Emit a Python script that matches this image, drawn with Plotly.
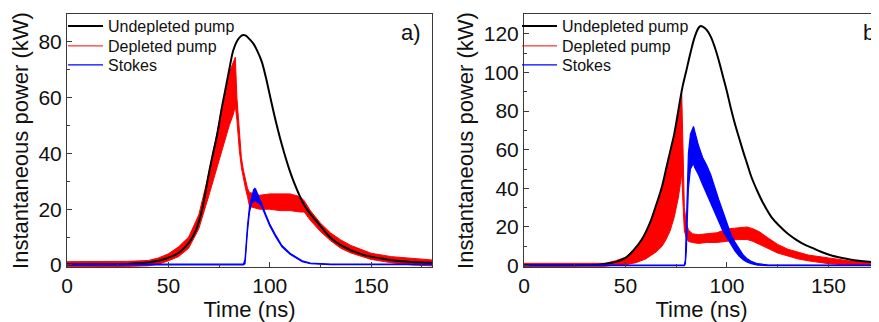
import plotly.graph_objects as go

# ---------------- Panel a) ----------------
t_a_black = [0, 10, 20, 30, 35, 40, 45, 50, 55, 60, 63, 66, 68, 70, 72, 74, 76, 78, 80, 82, 84, 86, 87, 88,
             90, 92, 94, 96, 98, 100, 102, 104, 106, 108, 110, 112, 114, 116, 118, 120, 122, 125, 128, 130,
             134, 138, 142, 146, 150, 155, 160, 165, 170, 175, 180]
p_a_black = [0.3, 0.3, 0.3, 0.4, 0.6, 0.9, 1.5, 2.6, 4.3, 7.8, 11.5, 18, 25, 33, 40, 46.5, 55, 62.5, 70, 77,
             80.5, 82.2, 82.5, 82.3, 81, 79.3, 76.5, 73, 67.5, 61, 54.5, 48.5, 43, 38, 33.5, 29.5, 26, 22.8,
             20.3, 18.3, 16.5, 14, 11.3, 9.8, 7.6, 6, 4.7, 3.7, 3, 2.3, 1.7, 1.3, 1.05, 0.9, 0.8]

t_a_red = [0, 10, 20, 30, 40, 45, 50, 55, 60, 65, 70, 75, 78, 80, 82, 83, 83.8, 84.4, 85, 86, 87, 88, 89, 90,
           95, 100, 105, 110, 115, 117, 120, 125, 130, 135, 140, 150, 160, 170, 180]
p_a_red_lo = [-0.6, -0.6, -0.6, -0.5, -0.3, 0.3, 1.5, 3, 6, 13, 25, 38, 45, 50, 54, 57, 52, 46, 41, 35, 31,
              27.5, 24.5, 21, 20, 20, 19.5, 19.5, 19, 19, 16, 12, 8.7, 6, 4.3, 2, 0.8, 0, -0.3]
p_a_red_hi = [1.2, 1.2, 1.2, 1.3, 1.6, 2.5, 4, 6.5, 10, 18, 33, 52, 62, 69, 73, 74.5, 60, 54, 47, 38.5, 34,
              30.5, 27.5, 26, 25, 25.5, 25.5, 25.5, 24.5, 23, 19.5, 15, 11.5, 9, 7, 4.2, 3, 2.3, 1.8]

t_a_blue = [0, 87, 87.8, 88.5, 89, 90, 91, 92, 92.6, 93, 94, 95, 96, 98, 100, 103, 106, 110, 113, 116, 120,
            125, 130, 180]
p_a_blue_lo = [0, 0, 0.5, 8, 12, 19, 22, 23, 23, 23, 22.5, 22, 21, 17.5, 14, 10, 6.5, 3.8, 2.4, 1.2, 0.5,
               0.2, 0.1, 0.1]
p_a_blue_hi = [0.3, 0.3, 2, 9.5, 14, 21, 24.5, 27, 27.5, 27.2, 25.5, 24, 22, 18.2, 14.7, 10.6, 7, 4.2, 2.8,
               1.5, 0.7, 0.4, 0.3, 0.3]

# ---------------- Panel b) ----------------
t_b_black = [0, 20, 30, 37, 42, 46, 50, 54, 58, 62, 65, 68, 70, 72, 74, 76, 78, 80, 82, 84, 86, 87, 88, 90,
             92, 94, 96, 98, 100, 102, 104, 106, 108, 110, 112, 115, 118, 122, 126, 130, 134, 138, 142, 146,
             150, 155, 160, 165, 170, 175, 180]
p_b_black = [0.2, 0.2, 0.3, 0.5, 1.2, 2.2, 4, 8, 13.5, 22, 31, 41, 50, 59, 68, 80, 92, 101, 110, 118, 123,
             124, 123.7, 122, 118.5, 113, 106, 98, 90, 81, 73, 66, 59, 52.5, 46, 38.5, 32, 25, 20.4, 16.5,
             13.5, 11, 9.2, 7.3, 5.8, 4.3, 3.3, 2.5, 2, 1.7, 1.4]

t_b_red = [0, 20, 40, 45, 50, 55, 60, 65, 68, 70, 72, 74, 76, 77, 77.7, 78.3, 79, 80, 81, 83, 86, 90, 95,
           100, 105, 110, 113, 116, 120, 125, 130, 135, 140, 150, 160, 170, 180]
p_b_red_lo = [-0.3, -0.3, -0.3, 0.3, 0.5, 1.5, 3.5, 7, 10, 13.5, 18, 25, 35, 42, 48, 33, 18, 14.5, 12.5, 12,
              11.5, 12, 12, 12.6, 13.5, 13.5, 12.5, 11, 9, 6.5, 5, 3.5, 2.5, 1, 0.3, 0, -0.2]
p_b_red_hi = [1.2, 1.2, 1.2, 2.5, 4.3, 9, 16.5, 30, 40, 48, 57, 66, 78, 84, 89.5, 62, 30, 22, 18.5, 16.5,
              16, 16.5, 17, 19, 19.5, 20, 19, 17.5, 14.5, 11, 8.5, 7, 5.5, 4, 2.5, 2, 1.5]

t_b_blue = [0, 79, 79.5, 80, 80.5, 81, 82, 83, 83.5, 84, 85, 86, 88, 90, 92, 94, 96, 98, 100, 102, 104, 106,
            108, 110, 112, 115, 120, 180]
p_b_blue_lo = [0, 0, 1, 8, 25, 40, 50, 52, 53, 51, 49, 47, 42, 37, 33, 28, 23, 18, 14.5, 11, 7.5, 5, 3, 1.8,
               1, 0.3, 0, 0]
p_b_blue_hi = [0.3, 0.3, 3, 25, 45, 58, 68, 71, 72, 70, 66, 62, 56, 52, 47, 40, 34, 28, 21.5, 16, 12, 8.5,
               5.5, 3.5, 2.2, 1, 0.4, 0.3]

series_names = ["Undepleted pump", "Depleted pump", "Stokes"]
panel_labels = ["a)", "b)"]

BLACK = "#000000"
RED = "#ff0000"
BLUE = "#0000ff"
FONT = "Liberation Sans, Arial, sans-serif"
TXT = "#111111"

fig = go.Figure()


def add_panel(xa, ya, legs, t_k, p_k, t_r, r_lo, r_hi, t_b, b_lo, b_hi):
    # depleted pump (noisy band drawn as envelope)
    fig.add_trace(go.Scatter(x=t_r, y=r_lo, mode="lines", line=dict(color=RED, width=1),
                             name=series_names[1], legend=legs[1], xaxis=xa, yaxis=ya))
    fig.add_trace(go.Scatter(x=t_r, y=r_hi, mode="lines", line=dict(color=RED, width=1),
                             fill="tonexty", fillcolor=RED, showlegend=False, xaxis=xa, yaxis=ya))
    # undepleted pump
    fig.add_trace(go.Scatter(x=t_k, y=p_k, mode="lines", line=dict(color=BLACK, width=2, shape="spline"),
                             name=series_names[0], legend=legs[0], xaxis=xa, yaxis=ya))
    # stokes
    fig.add_trace(go.Scatter(x=t_b, y=b_lo, mode="lines", line=dict(color=BLUE, width=1.2),
                             name=series_names[2], legend=legs[2], xaxis=xa, yaxis=ya))
    fig.add_trace(go.Scatter(x=t_b, y=b_hi, mode="lines", line=dict(color=BLUE, width=1.2),
                             fill="tonexty", fillcolor=BLUE, showlegend=False, xaxis=xa, yaxis=ya))


add_panel("x", "y", ["legend", "legend2", "legend3"], t_a_black, p_a_black, t_a_red, p_a_red_lo, p_a_red_hi,
          t_a_blue, p_a_blue_lo, p_a_blue_hi)
add_panel("x2", "y2", ["legend4", "legend5", "legend6"], t_b_black, p_b_black, t_b_red, p_b_red_lo,
          p_b_red_hi, t_b_blue, p_b_blue_lo, p_b_blue_hi)

AX_COLOR = "#3a3a3a"
tickfont = dict(family=FONT, size=21, color=TXT)
titlefont = dict(family=FONT, size=22, color=TXT)

common_x = dict(showgrid=False, zeroline=False, showline=True, linecolor=AX_COLOR, linewidth=1,
                ticks="inside", ticklen=5, tickcolor=AX_COLOR, dtick=50, tick0=0,
                minor=dict(ticks="inside", ticklen=3, dtick=25, tickcolor=AX_COLOR),
                tickfont=tickfont, title=dict(text="Time (ns)", font=titlefont, standoff=2),
                automargin=False)
common_y = dict(showgrid=False, zeroline=False, showline=True, linecolor=AX_COLOR, linewidth=1,
                ticks="inside", ticklen=5, tickcolor=AX_COLOR, dtick=20, tick0=0,
                minor=dict(ticks="inside", ticklen=3, dtick=10, tickcolor=AX_COLOR),
                tickfont=tickfont, title=dict(text="Instantaneous power (kW)", font=titlefont, standoff=4),
                automargin=False)


def leg(x, y):
    return dict(x=x, y=y, xanchor="left", yanchor="middle", bgcolor="rgba(0,0,0,0)", borderwidth=0,
                font=dict(family=FONT, size=16, color=TXT), itemwidth=35)


row_y = [0.9526, 0.8735, 0.7984]
xa_leg = -0.0049
xb_leg = 0.5542

fig.update_layout(
    width=871, height=314,
    margin=dict(l=59, r=0, t=6, b=55),
    paper_bgcolor="white", plot_bgcolor="white",
    font=dict(family=FONT, color=TXT),
    xaxis=dict(common_x, domain=[0, 0.4495], range=[0, 180], mirror=True, anchor="y"),
    yaxis=dict(common_y, domain=[0, 1], range=[-0.72, 90], mirror=True, anchor="x"),
    xaxis2=dict(common_x, domain=[0.5628, 1], range=[0, 174.9], mirror=True, anchor="y2"),
    yaxis2=dict(common_y, domain=[0, 1], range=[-0.7, 130.2], mirror=False, anchor="x2"),
    legend=leg(xa_leg, row_y[0]),
    legend2=leg(xa_leg, row_y[1]),
    legend3=leg(xa_leg, row_y[2]),
    legend4=leg(xb_leg, row_y[0]),
    legend5=leg(xb_leg, row_y[1]),
    legend6=leg(xb_leg, row_y[2]),
    annotations=[
        dict(text=panel_labels[0], xref="paper", yref="paper", x=0.4384, y=0.925, xanchor="right",
             yanchor="middle", showarrow=False, font=dict(family=FONT, size=22, color=TXT)),
        dict(text=panel_labels[1], xref="paper", yref="paper", x=0.978, y=0.925, xanchor="left",
             yanchor="middle", showarrow=False, font=dict(family=FONT, size=22, color=TXT)),
    ],
)

fig.write_html("out.html")
